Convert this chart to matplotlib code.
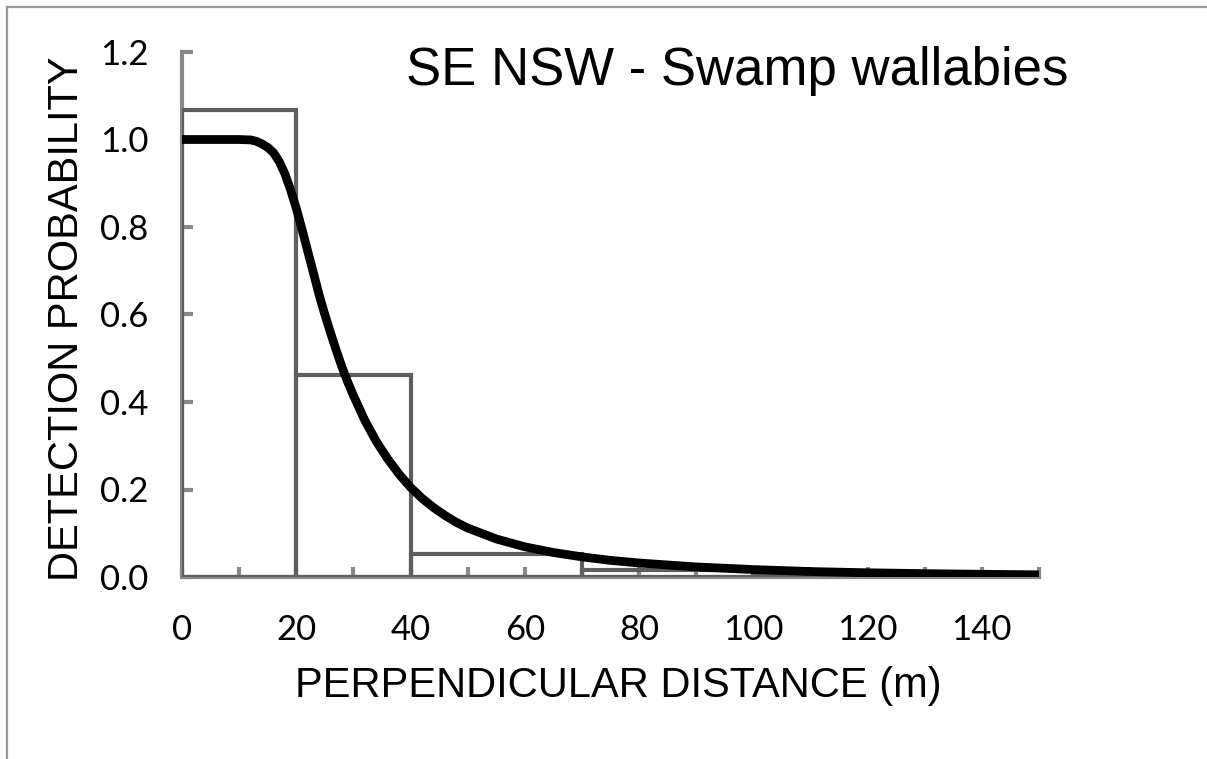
import numpy as np
import matplotlib.pyplot as plt
from matplotlib.ticker import MultipleLocator

plt.rcParams['font.family'] = ['Lato', 'DejaVu Sans']

# histogram of detections (bin edges in m, scaled height)
bin_left = [0, 20, 40, 70, 100]
bin_width = [20, 20, 30, 30, 50]
bin_height = [1.067, 0.462, 0.052, 0.016, 0.007]

# fitted detection function
dist = [0, 5, 10, 11, 12, 13, 14, 15, 16, 17, 18, 19, 20, 21, 22, 23, 24, 25,
        26, 27, 28, 29, 30, 32, 34, 36, 38, 40, 42, 44, 46, 48, 50, 55, 60,
        65, 70, 75, 80, 90, 100, 110, 120, 130, 140, 150]
prob = [1.0, 1.0, 1.0, 0.9995, 0.999, 0.996, 0.99, 0.982, 0.97, 0.95, 0.922,
        0.885, 0.843, 0.795, 0.745, 0.695, 0.645, 0.6, 0.558, 0.518, 0.48,
        0.446, 0.415, 0.358, 0.31, 0.27, 0.235, 0.205, 0.18, 0.159, 0.141,
        0.125, 0.112, 0.087, 0.069, 0.056, 0.046, 0.038, 0.032, 0.023, 0.017,
        0.0125, 0.0097, 0.0077, 0.0062, 0.005]

W, H = 1207, 759
fig = plt.figure(figsize=(W / 100, H / 100), dpi=100)
ax = fig.add_axes([182 / W, 1 - 577 / H, (1039 - 182) / W, (577 - 52) / H])

ax.bar(bin_left, bin_height, width=bin_width, align="edge", fill=False,
       edgecolor="#5e5e5e", linewidth=3, zorder=2)
ax.plot(dist, prob, color="black", linewidth=6.3, solid_capstyle="butt",
        solid_joinstyle="round", zorder=3)

ax.set_xlim(0, 150)
ax.set_ylim(0, 1.2)
ax.xaxis.set_major_locator(MultipleLocator(20))
ax.xaxis.set_minor_locator(MultipleLocator(10))
ax.yaxis.set_major_locator(MultipleLocator(0.2))
ax.yaxis.set_major_formatter(plt.FuncFormatter(lambda v, p: f"{v:.1f}"))

for s in ["top", "right"]:
    ax.spines[s].set_visible(False)
for s in ["left", "bottom"]:
    ax.spines[s].set_color("#898989")
    ax.spines[s].set_linewidth(3)
    ax.spines[s].set_zorder(1)

ax.tick_params(axis="both", which="both", direction="in", color="#898989",
               width=3, labelsize=25)
ax.tick_params(axis="x", which="both", length=7, pad=27)
ax.tick_params(axis="y", which="major", length=8, pad=24)

fig.text(737 / W, 1 - 71 / H, "SE NSW - Swamp wallabies", fontsize=38,
         family="Liberation Sans", ha="center", va="center")
fig.text(67 / W, 1 - 319 / H, "DETECTION PROBABILITY", fontsize=30,
         family="Liberation Sans", rotation=90, ha="center", va="center")
fig.text(618 / W, 1 - 686 / H, "PERPENDICULAR DISTANCE (m)", fontsize=30,
         family="Liberation Sans", ha="center", va="center")

# frame around the picture (top and left edges only visible)
fig.add_artist(plt.Line2D([7 / W, 1.0], [1 - 7 / H, 1 - 7 / H],
                          transform=fig.transFigure, color="#999999", linewidth=1.6))
fig.add_artist(plt.Line2D([7 / W, 7 / W], [0.0, 1 - 7 / H],
                          transform=fig.transFigure, color="#999999", linewidth=1.6))

fig.savefig("out.png", dpi=100)
